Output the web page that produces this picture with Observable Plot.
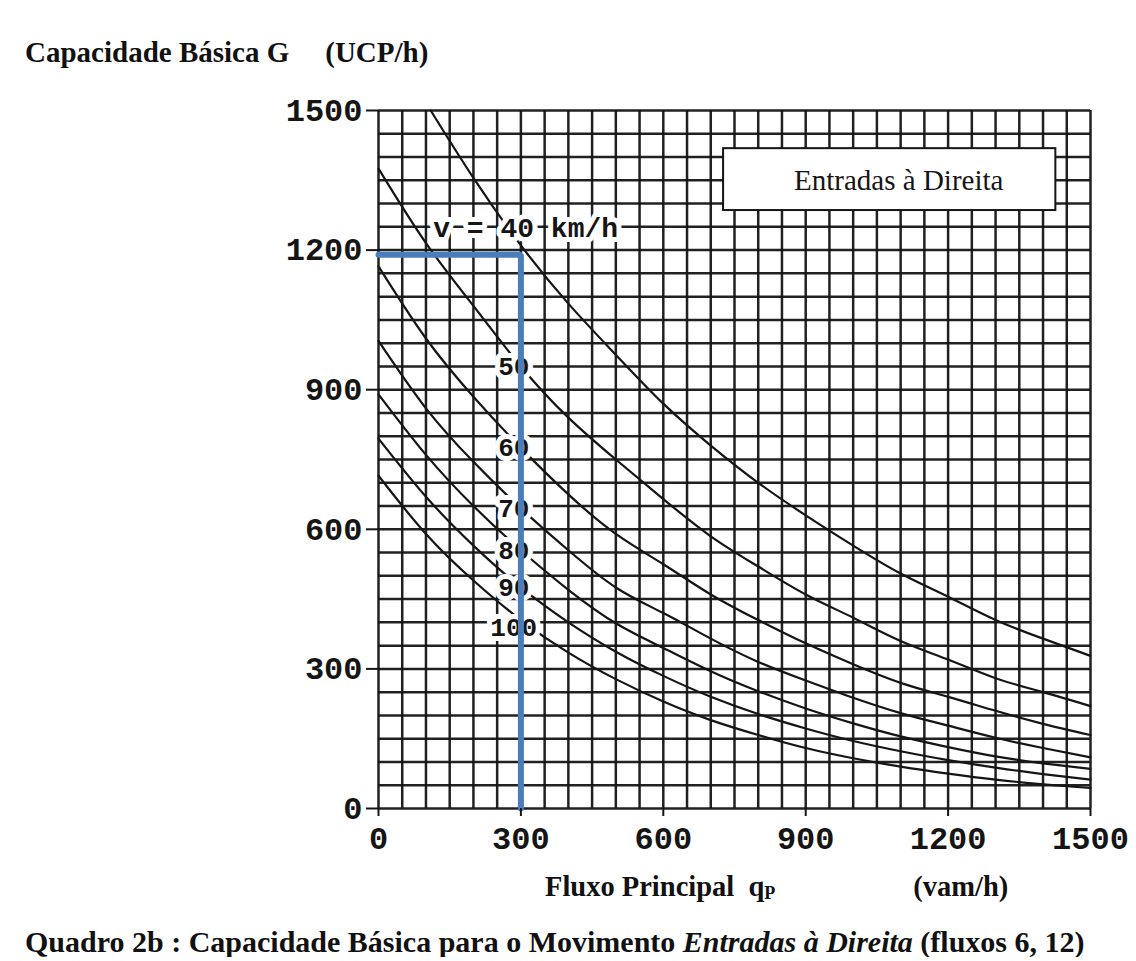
<!DOCTYPE html>
<html lang="pt">
<head>
<meta charset="utf-8">
<script src="https://cdn.jsdelivr.net/npm/d3@7"></script>
<script src="https://cdn.jsdelivr.net/npm/@observablehq/plot@0.6"></script>
<style>
  html, body { margin: 0; padding: 0; background: #fff; }
  body { width: 1136px; color: #111; font-family: "Liberation Serif", "Times New Roman", serif; }
  #title { height: 90px; box-sizing: border-box; padding: 37px 0 0 25px; font-weight: bold; font-size: 29px; line-height: 30px; white-space: pre; }
  #title .unit { margin-left: 36px; }
  #xlabel { height: 50px; box-sizing: border-box; padding: 14px 0 0 545px; font-weight: bold; font-size: 28.5px; line-height: 30px; white-space: pre; }
  #xlabel .sub { font-size: 18px; position: relative; top: 3px; }
  #xlabel .unit { margin-left: 138px; }
  #caption { box-sizing: border-box; padding: 19px 0 0 25px; font-weight: bold; font-size: 30px; line-height: 30px; white-space: pre; }
  #chart svg { display: block; }
</style>
</head>
<body>
<div id="title">Capacidade Básica G<span class="unit">(UCP/h)</span></div>
<div id="chart"></div>
<div id="xlabel">Fluxo Principal  q<span class="sub">P</span><span class="unit">(vam/h)</span></div>
<div id="caption">Quadro 2b : Capacidade Básica para o Movimento <i>Entradas à Direita</i> (fluxos 6, 12)</div>
<script>
// Main-road flow qp (vam/h) at which each curve is read
const qp   = [0, 100, 200, 300, 400, 500, 600, 700, 800, 900, 1000, 1100, 1200, 1300, 1400, 1500];
// the 40 km/h curve enters the chart at the top edge
const qp40 = [110, 200, 300, 400, 500, 600, 700, 800, 900, 1000, 1100, 1200, 1300, 1400, 1500];

// Basic capacity G (UCP/h) per approach speed
const g40  = [1500, 1355, 1210, 1085, 975, 870, 780, 700, 630, 565, 505, 455, 405, 365, 328];
const g50  = [1375, 1215, 1080, 950, 840, 750, 665, 585, 520, 460, 410, 360, 320, 280, 250, 220];
const g60  = [1165, 1010, 885, 775, 675, 590, 525, 460, 405, 355, 310, 270, 240, 210, 182, 158];
const g70  = [1005, 860, 745, 645, 555, 475, 420, 365, 315, 275, 238, 205, 178, 152, 130, 110];
const g80  = [890, 760, 650, 555, 470, 398, 345, 295, 252, 215, 183, 155, 132, 112, 97, 85];
const g90  = [795, 670, 565, 475, 400, 337, 285, 240, 203, 172, 145, 123, 104, 88, 74, 62];
const g100 = [715, 590, 490, 405, 335, 278, 230, 190, 158, 130, 108, 90, 75, 62, 52, 44];

const speeds = [40, 50, 60, 70, 80, 90, 100];
const speedLabels = ["v = 40 km/h", "50", "60", "70", "80", "90", "100"];

// Axis tick labels and grid spacing
const xTicks = [0, 300, 600, 900, 1200, 1500];
const yTicks = [0, 300, 600, 900, 1200, 1500];
const gridTicks = d3.range(0, 1501, 50);

// Worked example: qp = 300 vam/h read up to the 40 km/h curve
const readingPath = [
  {qp: 0, g: 1190},
  {qp: 300, g: 1190},
  {qp: 300, g: 0}
];

const legendLabel = "Entradas à Direita";

// Long-format rows for the curves
const series = [
  [40, qp40, g40], [50, qp, g50], [60, qp, g60], [70, qp, g70],
  [80, qp, g80], [90, qp, g90], [100, qp, g100]
];
const rows = series.flatMap(([speed, xs, ys]) => xs.map((x, i) => ({speed, qp: x, g: ys[i]})));

// Curve labels sit on the curve's value at qp = 300, where each curve is interrupted
const labelRows = series.map(([speed, xs, ys], i) => ({
  speed,
  text: speedLabels[i],
  qp: speed === 40 ? 310 : 285,
  g: ys[xs.indexOf(300)]
}));

const ink = "#151515";
const labelStyle = {x: "qp", y: "g", text: "text", fill: ink, stroke: "#fff", strokeWidth: 10, fontWeight: "bold"};

const chart = Plot.plot({
  width: 1136,
  height: 768,
  marginLeft: 378,
  marginRight: 46,
  marginTop: 20,
  marginBottom: 50,
  x: {domain: [0, 1500]},
  y: {domain: [0, 1500]},
  style: {
    fontFamily: "'Liberation Mono', 'Courier New', monospace",
    fontWeight: "bold",
    fontSize: "32px",
    color: ink,
    background: "#fff"
  },
  marks: [
    Plot.gridX({ticks: gridTicks, stroke: ink, strokeOpacity: 0.95, strokeWidth: 2.5}),
    Plot.gridY({ticks: gridTicks, stroke: ink, strokeOpacity: 0.95, strokeWidth: 2.5}),
    Plot.line(rows, {x: "qp", y: "g", z: "speed", stroke: ink, strokeWidth: 2.2, curve: "natural"}),
    Plot.rect([legendLabel], {x1: 727, x2: 1427, y1: 1285, y2: 1418, fill: "#fff", stroke: ink, strokeWidth: 2}),
    Plot.text([legendLabel], {
      x: 1096, y: 1350, text: d => d, fill: ink,
      fontFamily: "'Liberation Serif', serif", fontWeight: "normal", fontSize: 29
    }),
    // speed labels: the 40 km/h one rides above its curve, 100 sits just below
    Plot.text(labelRows, {...labelStyle, filter: d => d.speed === 40, fontSize: 28, dy: -17}),
    Plot.text(labelRows, {...labelStyle, filter: d => d.speed > 40 && d.speed < 100, fontSize: 26}),
    Plot.text(labelRows, {...labelStyle, filter: d => d.speed === 100, fontSize: 26, dy: 8}),
    Plot.line(readingPath, {x: "qp", y: "g", stroke: "#4a7ebb", strokeWidth: 6, strokeLinejoin: "miter"}),
    Plot.axisX({ticks: xTicks, tickFormat: d => String(d), tickSize: 8, tickPadding: 10, label: null, stroke: ink, strokeWidth: 2}),
    Plot.axisY({ticks: yTicks, tickFormat: d => String(d), tickSize: 12, tickPadding: 4, label: null, stroke: ink, strokeWidth: 2})
  ]
});

document.getElementById("chart").appendChild(chart);
</script>
</body>
</html>
